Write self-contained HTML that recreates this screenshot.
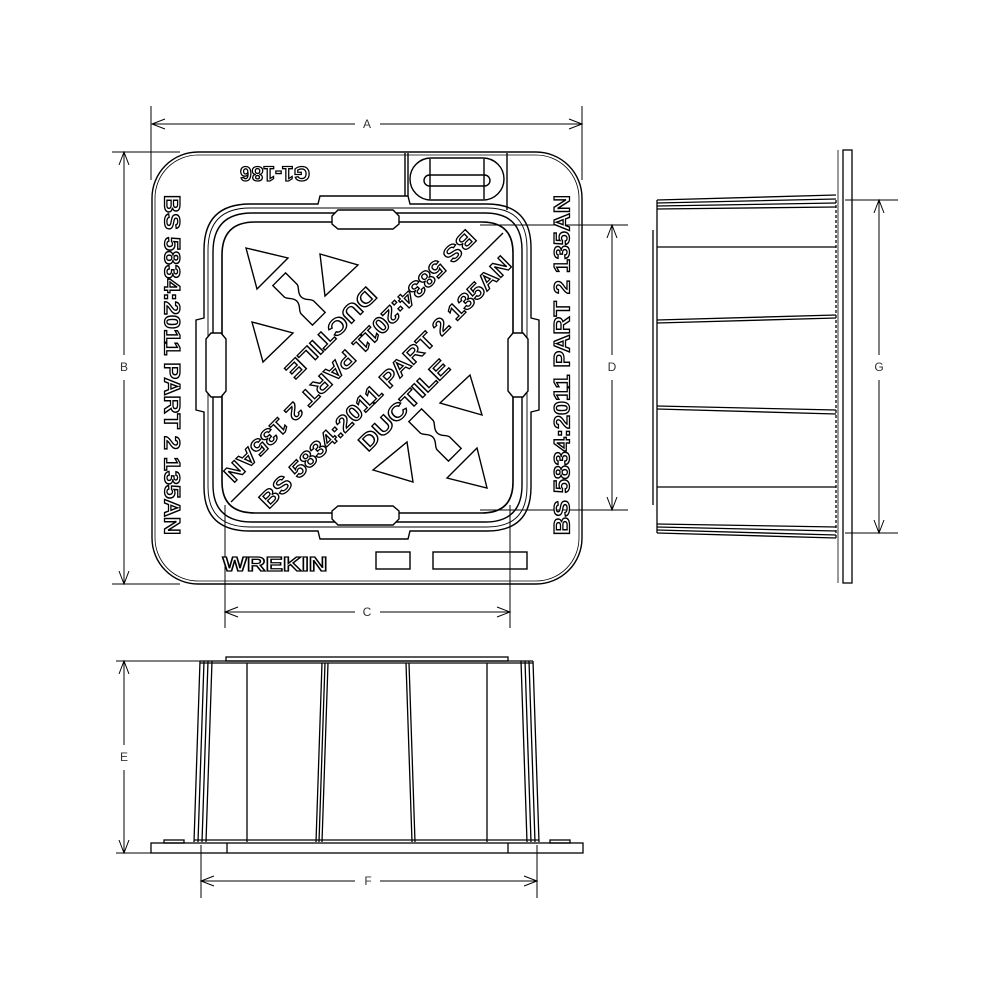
<!DOCTYPE html>
<html><head><meta charset="utf-8"><style>html,body{margin:0;padding:0;background:#fff}svg{display:block}</style></head>
<body>
<svg width="1000" height="1000" viewBox="0 0 1000 1000" xmlns="http://www.w3.org/2000/svg" font-family="Liberation Sans, sans-serif">
<defs></defs>
<g fill="none" stroke="#000" stroke-width="1">
<line x1="151" y1="106" x2="151" y2="180"/><line x1="582" y1="106" x2="582" y2="180"/>
<line x1="152" y1="124" x2="355" y2="124"/><line x1="380" y1="124" x2="582" y2="124"/>
<polyline points="165,119 152,124 165,129"/><polyline points="569,119 582,124 569,129"/>
<line x1="112" y1="152" x2="180" y2="152"/><line x1="112" y1="584" x2="180" y2="584"/>
<line x1="124" y1="152" x2="124" y2="355"/><line x1="124" y1="380" x2="124" y2="584"/>
<polyline points="119,165 124,152 129,165"/><polyline points="119,571 124,584 129,571"/>
<line x1="225" y1="505" x2="225" y2="628"/><line x1="510" y1="505" x2="510" y2="628"/>
<line x1="225" y1="612" x2="355" y2="612"/><line x1="380" y1="612" x2="510" y2="612"/>
<polyline points="238,607 225,612 238,617"/><polyline points="497,607 510,612 497,617"/>
<line x1="480" y1="225" x2="628" y2="225"/><line x1="480" y1="510" x2="628" y2="510"/>
<line x1="612" y1="225" x2="612" y2="355"/><line x1="612" y1="380" x2="612" y2="510"/>
<polyline points="607,238 612,225 617,238"/><polyline points="607,497 612,510 617,497"/>
<line x1="845" y1="200" x2="898" y2="200"/><line x1="845" y1="533" x2="898" y2="533"/>
<line x1="879" y1="200" x2="879" y2="355"/><line x1="879" y1="380" x2="879" y2="533"/>
<polyline points="874,213 879,200 884,213"/><polyline points="874,520 879,533 884,520"/>
<line x1="116" y1="661" x2="205" y2="661"/><line x1="116" y1="853" x2="200" y2="853"/>
<line x1="124" y1="661" x2="124" y2="745"/><line x1="124" y1="770" x2="124" y2="853"/>
<polyline points="119,674 124,661 129,674"/><polyline points="119,840 124,853 129,840"/>
<line x1="201" y1="845" x2="201" y2="898"/><line x1="537" y1="845" x2="537" y2="898"/>
<line x1="201" y1="881" x2="355" y2="881"/><line x1="380" y1="881" x2="537" y2="881"/>
<polyline points="214,876 201,881 214,886"/><polyline points="524,876 537,881 524,886"/>
</g>
<g font-size="12" fill="#333" text-anchor="middle">
<text x="367" y="128">A</text><text x="124" y="371">B</text><text x="367" y="616">C</text>
<text x="612" y="371">D</text><text x="879" y="371">G</text><text x="124" y="761">E</text><text x="368" y="885">F</text>
</g>

<g fill="none" stroke="#000" stroke-width="1.4">
<rect x="152" y="152" width="430" height="432" rx="46"/>
<rect x="155" y="155" width="424" height="426" rx="43" stroke-width="0.8"/>
<line x1="405" y1="153" x2="405" y2="196"/><line x1="408" y1="153" x2="408" y2="196"/>
<line x1="507" y1="153" x2="507" y2="210"/>
<rect x="410" y="158" width="94" height="42" rx="21"/>
<rect x="424" y="175" width="66" height="11" rx="5.5"/>
<line x1="430" y1="159" x2="430" y2="199"/><line x1="484" y1="159" x2="484" y2="199"/>
<path d="M 250 204 L 318 204 L 320 196 L 408 196 L 410 204 L 487 204 Q 531 204 531 248 L 531 318 L 539 320 L 539 410 L 531 412 L 531 487 Q 531 531 487 531 L 410 531 L 408 539 L 320 539 L 318 531 L 250 531 Q 204 531 204 487 L 204 412 L 196 410 L 196 320 L 204 318 L 204 250 Q 204 204 250 204 Z"/>
<path d="M 250 208 L 487 208 Q 527 208 527 248 L 527 487 Q 527 527 487 527 L 250 527 Q 208 527 208 487 L 208 250 Q 208 208 250 208 Z" stroke-width="0.9"/>
<path d="M 252 213 L 485 213 Q 522 213 522 250 L 522 485 Q 522 522 485 522 L 252 522 Q 213 522 213 485 L 213 252 Q 213 213 252 213 Z"/>
<path d="M 255 222 L 482 222 Q 513 222 513 253 L 513 482 Q 513 513 482 513 L 255 513 Q 222 513 222 482 L 222 255 Q 222 222 255 222 Z" stroke-width="1.6"/>
<polygon points="338,210 393,210 399,216 399,224 393,229 338,229 332,224 332,216" fill="#fff"/>
<polygon points="338,506 393,506 399,511 399,519 393,525 338,525 332,519 332,511" fill="#fff"/>
<polygon points="211,333 221,333 226,339 226,391 221,397 211,397 206,391 206,339" fill="#fff"/>
<polygon points="513,333 523,333 528,339 528,391 523,397 513,397 508,391 508,339" fill="#fff"/>
<line x1="503" y1="233" x2="231" y2="502"/>
<polygon points="246,248 288,258 257,289"/>
<polygon points="320,254 358,265 325,296"/>
<polygon points="252,322 293,333 263,362"/>
<polygon points="440,403 470,375 482,415"/>
<polygon points="373,470 407,442 413,482"/>
<polygon points="447,478 477,448 487,488"/>
<path transform="translate(299,299) rotate(45)" d="M -28 -9 L -12 -9 C -8 -9 -6 -3 0 -3 C 6 -3 8 -9 12 -9 L 28 -9 L 28 9 L 12 9 C 8 9 6 3 0 3 C -6 3 -8 9 -12 9 L -28 9 Z"/>
<path transform="translate(435,435) rotate(45)" d="M -28 -9 L -12 -9 C -8 -9 -6 -3 0 -3 C 6 -3 8 -9 12 -9 L 28 -9 L 28 9 L 12 9 C 8 9 6 3 0 3 C -6 3 -8 9 -12 9 L -28 9 Z"/>
<rect x="376" y="552" width="34" height="17"/>
<rect x="433" y="552" width="94" height="17"/>
</g>
<g font-weight="bold" fill="#fff" stroke="#000" stroke-width="1.3" text-anchor="middle">
<text transform="translate(275,173) rotate(180)" font-size="21" dominant-baseline="central">G1-186</text>
<text transform="translate(172,365) rotate(90)" font-size="22" dominant-baseline="central" textLength="340" lengthAdjust="spacingAndGlyphs">BS 5834:2011 PART 2 135AN</text>
<text transform="translate(562,365) rotate(-90)" font-size="22" dominant-baseline="central" textLength="340" lengthAdjust="spacingAndGlyphs">BS 5834:2011 PART 2 135AN</text>
<text x="275" y="571" font-size="20" textLength="105" lengthAdjust="spacingAndGlyphs">WREKIN</text>
<text transform="translate(385,382) rotate(-45)" font-size="23" dominant-baseline="central" textLength="345" lengthAdjust="spacingAndGlyphs">BS 5834:2011 PART 2 135AN</text>
<text transform="translate(404,405) rotate(-45)" font-size="23" dominant-baseline="central" textLength="118" lengthAdjust="spacingAndGlyphs">DUCTILE</text>
<text transform="translate(350,356) rotate(135)" font-size="23" dominant-baseline="central" textLength="345" lengthAdjust="spacingAndGlyphs">BS 5834:2011 PART 2 135AN</text>
<text transform="translate(331,333) rotate(135)" font-size="23" dominant-baseline="central" textLength="118" lengthAdjust="spacingAndGlyphs">DUCTILE</text>
</g>

<g fill="none" stroke="#000" stroke-width="1.3">
<rect x="843" y="150" width="9" height="433"/>
<line x1="838" y1="150" x2="838" y2="583" stroke-width="0.8"/>
<line x1="836" y1="200" x2="836" y2="540" stroke-dasharray="3,2"/>
<line x1="657" y1="200" x2="657" y2="533"/>
<line x1="653" y1="230" x2="653" y2="505"/>
<path d="M 657 200 L 836 195 M 657 203 L 836 199 M 657 206 L 836 203 M 657 209 L 836 207"/>
<path d="M 657 533 L 836 538 M 657 530 L 836 535 M 657 527 L 836 531 M 657 524 L 836 527"/>
<line x1="657" y1="247" x2="836" y2="247"/>
<path d="M 657 320 L 836 315 M 657 323 L 836 318"/>
<path d="M 657 406 L 836 410 M 657 409 L 836 414"/>
<line x1="657" y1="487" x2="836" y2="487"/>
</g>

<g fill="none" stroke="#000" stroke-width="1.3">
<rect x="226" y="657" width="282" height="4"/>
<line x1="200" y1="661" x2="533" y2="661"/><line x1="200" y1="663" x2="533" y2="663"/>
<path d="M 200 661 L 194 842 M 204 661 L 198 842 M 208 661 L 202 842 M 212 661 L 206 842"/>
<path d="M 533 661 L 539 842 M 529 661 L 535 842 M 525 661 L 531 842 M 521 661 L 527 842"/>
<line x1="247" y1="663" x2="247" y2="842"/>
<path d="M 322 663 L 316 842 M 325 663 L 319 842 M 328 663 L 322 842"/>
<path d="M 406 663 L 412 842 M 409 663 L 415 842"/>
<line x1="487" y1="663" x2="487" y2="842"/>
<line x1="194" y1="840" x2="539" y2="840"/>
<rect x="151" y="843" width="432" height="10"/>
<line x1="227" y1="843" x2="227" y2="853"/><line x1="508" y1="843" x2="508" y2="853"/>
<rect x="164" y="840" width="20" height="3"/><rect x="550" y="840" width="20" height="3"/>
</g>
</svg>
</body></html>
